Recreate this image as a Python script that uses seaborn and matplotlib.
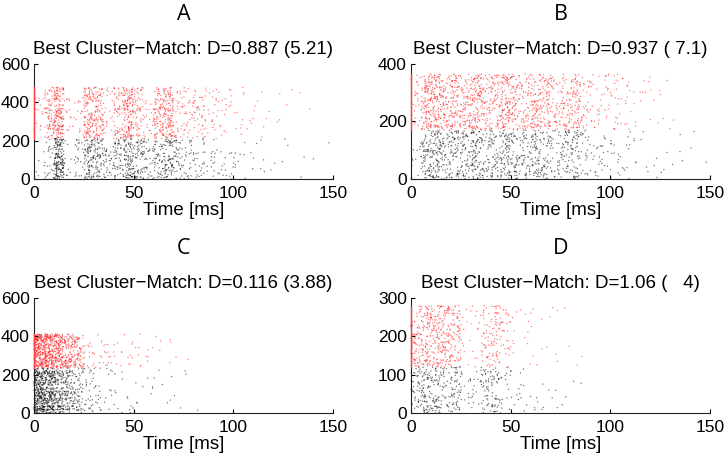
import numpy as np
import pandas as pd
import seaborn as sns
import matplotlib.pyplot as plt

# # # Values # # #
# spike counts per 5 ms bin (0-150 ms), for the matched cluster (red) and the rest (black)
bin_edges = list(range(0, 155, 5))

A_red = [15, 75, 150, 15, 15, 115, 95, 20, 65, 135, 55, 20, 95, 115, 30,
         30, 35, 22, 16, 12, 8, 6, 5, 3, 3, 2, 1, 1, 0, 0]
A_black = [3, 25, 165, 10, 25, 85, 65, 35, 55, 90, 60, 35, 50, 75, 40,
           25, 20, 15, 12, 10, 7, 5, 4, 3, 2, 2, 1, 1, 1, 1]
B_red = [25, 105, 115, 75, 90, 75, 105, 70, 65, 105, 70, 55, 90, 70, 45,
         55, 80, 30, 20, 18, 20, 14, 6, 6, 5, 4, 1, 0, 0, 0]
B_black = [10, 70, 85, 55, 60, 55, 80, 45, 50, 75, 50, 45, 65, 45, 30,
           45, 55, 22, 15, 12, 14, 10, 4, 4, 3, 3, 2, 2, 2, 1]
C_red = [230, 200, 150, 100, 75, 15, 10, 12, 8, 8, 6, 5, 3, 3, 1,
         1, 0, 0, 0, 0, 0, 0, 0, 0, 0, 0, 0, 0, 0, 0]
C_black = [290, 230, 150, 95, 60, 28, 16, 10, 8, 6, 4, 4, 3, 3, 2,
           2, 1, 0, 0, 0, 0, 0, 0, 0, 0, 0, 0, 0, 0, 0]
D_red = [85, 95, 90, 95, 70, 12, 12, 40, 60, 28, 8, 6, 5, 4, 4,
         2, 1, 1, 0, 0, 0, 0, 0, 0, 0, 0, 0, 0, 0, 0]
D_black = [45, 70, 60, 30, 55, 15, 15, 40, 45, 15, 8, 6, 5, 4, 3,
           2, 1, 1, 0, 0, 0, 0, 0, 0, 0, 0, 0, 0, 0, 0]

# neuron index ranges: black group [0, split), red group [split, top)
splits = [210, 170, 235, 120]
tops = [478, 365, 412, 280]
ymaxes = [600, 400, 600, 300]
yticks = [[0, 200, 400, 600], [0, 200, 400], [0, 200, 400, 600], [0, 100, 200, 300]]
letters = ['A', 'B', 'C', 'D']
titles = ['Best Cluster\u2212Match: D=0.887 (5.21)',
          'Best Cluster\u2212Match: D=0.937 ( 7.1)',
          'Best Cluster\u2212Match: D=0.116 (3.88)',
          'Best Cluster\u2212Match: D=1.06 (   4)']
counts = [(A_red, A_black), (B_red, B_black), (C_red, C_black), (D_red, D_black)]


# # # spread the binned counts over their bin (quadratic Weyl sequence, no lattice stripes) # # #
def spread(cnts, lo, hi, offset):
    t, n = [], []
    for i, c in enumerate(cnts):
        k = np.arange(c, dtype=float) + offset + 131 * i
        t.extend(bin_edges[i] + 5 * ((k * k * np.sqrt(2) + k * 0.5) % 1))
        n.extend(lo + (hi - lo) * ((k * k * np.sqrt(3) + k * np.sqrt(5)) % 1))
    return t, n


plt.rcParams['font.family'] = ['Liberation Sans', 'DejaVu Sans']
fig = plt.figure(figsize=(7.26, 4.62), dpi=100)
lefts = [0.0468, 0.5661, 0.0468, 0.5661]
bottoms = [0.6126, 0.6126, 0.1061, 0.1061]

for p in range(4):
    ax = fig.add_axes([lefts[p], bottoms[p], 0.4118, 0.249])
    red, black = counts[p]
    tr, nr = spread(red, splits[p], tops[p], 3 + 1000 * p)
    tb, nb = spread(black, 0, splits[p], 517 + 1000 * p)
    df = pd.DataFrame({
        'time': np.concatenate([tb, tr]),
        'neuron': np.concatenate([nb, nr]),
        'group': ['other'] * len(tb) + ['match'] * len(tr),
    })
    sns.scatterplot(data=df, x='time', y='neuron', hue='group',
                    palette={'other': '#000000', 'match': '#ff1010'},
                    s=1.0, linewidth=0, alpha=0.55, legend=False, ax=ax,
                    clip_on=False)
    # red cluster neurons all fire at t=0
    ax.plot([0, 0], [splits[p], tops[p]], color='#ff4040', lw=1.0,
            clip_on=False, zorder=3)
    ax.set_xlim(0, 150)
    ax.set_ylim(0, ymaxes[p])
    ax.set_xticks([0, 50, 100, 150])
    ax.set_yticks(yticks[p])
    ax.tick_params(direction='in', length=3, labelsize=12.5, width=0.8)
    ax.tick_params(axis='x', pad=5)
    ax.tick_params(axis='y', pad=3)
    for s in ['top', 'right']:
        ax.spines[s].set_visible(False)
    for s in ['left', 'bottom']:
        ax.spines[s].set_linewidth(0.8)
        ax.spines[s].set_color('#222222')
    ax.set_xlabel('Time [ms]', fontsize=13.5, labelpad=1)
    ax.set_ylabel('')
    ax.set_title(titles[p], fontsize=13.5, pad=7)
    fig.text(lefts[p] + 0.2059, bottoms[p] + 0.357, letters[p],
             ha='center', va='center', fontsize=15.5, family='Open Sans')

fig.savefig('out.png', dpi=100)
